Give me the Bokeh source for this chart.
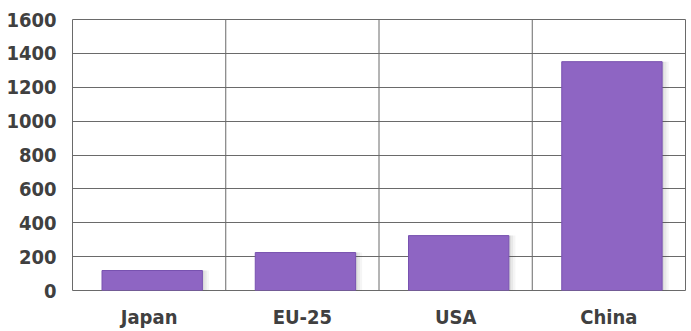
from bokeh.plotting import figure
from bokeh.models import FactorRange, Range1d, FixedTicker, Span, ColumnDataSource
from bokeh.transform import dodge
from bokeh.embed import file_html
from bokeh.resources import INLINE

categories = ["Japan", "EU-25", "USA", "China"]
values = [118, 224, 324, 1351]
y_ticks = [0, 200, 400, 600, 800, 1000, 1200, 1400, 1600]

src = ColumnDataSource(dict(cat=categories, val=values))

p = figure(x_range=FactorRange(*categories, range_padding=0), y_range=Range1d(0, 1600),
           width=691, height=331, output_backend="svg", toolbar_location=None,
           min_border_left=72, min_border_right=6, min_border_top=19, min_border_bottom=41,
           background_fill_color="white", border_fill_color="white")

# shadow layers
for off, a in [(0.06, 0.05), (0.045, 0.07), (0.03, 0.09)]:
    p.vbar(x=dodge("cat", off, range=p.x_range), top="val", width=0.66, bottom=-100,
           source=src, fill_color="#444444", fill_alpha=a, line_color=None)

p.vbar(x=dodge("cat", 0.02, range=p.x_range), top="val", width=0.655, source=src,
       fill_color="#8e65c3", line_color="#7852b0", line_width=1)

for i in range(1, len(categories)):
    p.add_layout(Span(location=i, dimension="height", line_color="#6a6a6a", line_width=1))

p.xgrid.grid_line_color = None
p.ygrid.grid_line_color = "#6a6a6a"
p.ygrid.grid_line_width = 1
p.yaxis.ticker = FixedTicker(ticks=y_ticks)

p.outline_line_color = "#6a6a6a"
p.outline_line_width = 1

for ax in (p.xaxis[0], p.yaxis[0]):
    ax.axis_line_color = None
    ax.major_tick_line_color = None
    ax.minor_tick_line_color = None
    ax.major_label_text_font = "DejaVu Sans Condensed"
    ax.major_label_text_font_style = "bold"
    ax.major_label_text_font_size = "20px"
    ax.major_label_text_color = "#404040"
p.yaxis.major_label_standoff = 10
p.xaxis.major_label_standoff = 8

open("out.html", "w").write(file_html(p, INLINE))
